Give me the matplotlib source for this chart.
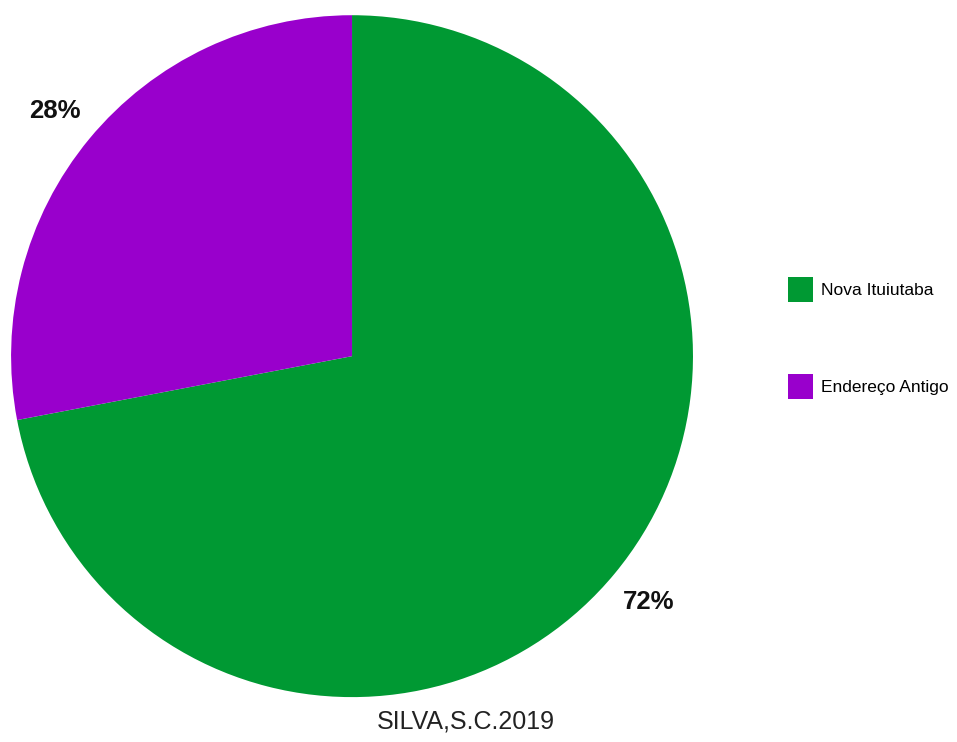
import matplotlib.pyplot as plt
from matplotlib.patches import Patch

# --- Data ---
labels = ["Nova Ituiutaba", "Endereço Antigo"]
shares = [72, 28]
colors = ["#009933", "#9900cc"]

plt.rcParams['font.family'] = ['Liberation Sans', 'DejaVu Sans']

fig = plt.figure(figsize=(9.57, 7.42), dpi=100)
ax = fig.add_axes([0.0115, 0.0605, 0.7127, 0.919])

wedges, texts, autotexts = ax.pie(
    shares, colors=colors, startangle=90, counterclock=False,
    autopct='%d%%', pctdistance=1.13,
    wedgeprops=dict(linewidth=0),
)
for t in autotexts:
    t.set_fontsize(18.5)
    t.set_fontweight('bold')
    t.set_color('#111111')
    t.set_clip_on(False)
ax.set_xlim(-1, 1)
ax.set_ylim(-1, 1)
ax.set_aspect('equal')

# Legend on the right
handles = [Patch(facecolor=c, edgecolor='none') for c in colors]
fig.legend(handles, labels, loc='upper left', bbox_to_anchor=(788 / 957, 1 - 277 / 742),
           frameon=False, fontsize=12.5, labelspacing=4.2, handlelength=1.45,
           handleheight=1.8, handletextpad=0.45, borderpad=0, borderaxespad=0)

# Source line
fig.text(466 / 957, 1 - 721 / 742, "SILVA,S.C.2019", ha='center', va='center',
         fontsize=18, color='#222222')

plt.savefig("out.png", dpi=100)
